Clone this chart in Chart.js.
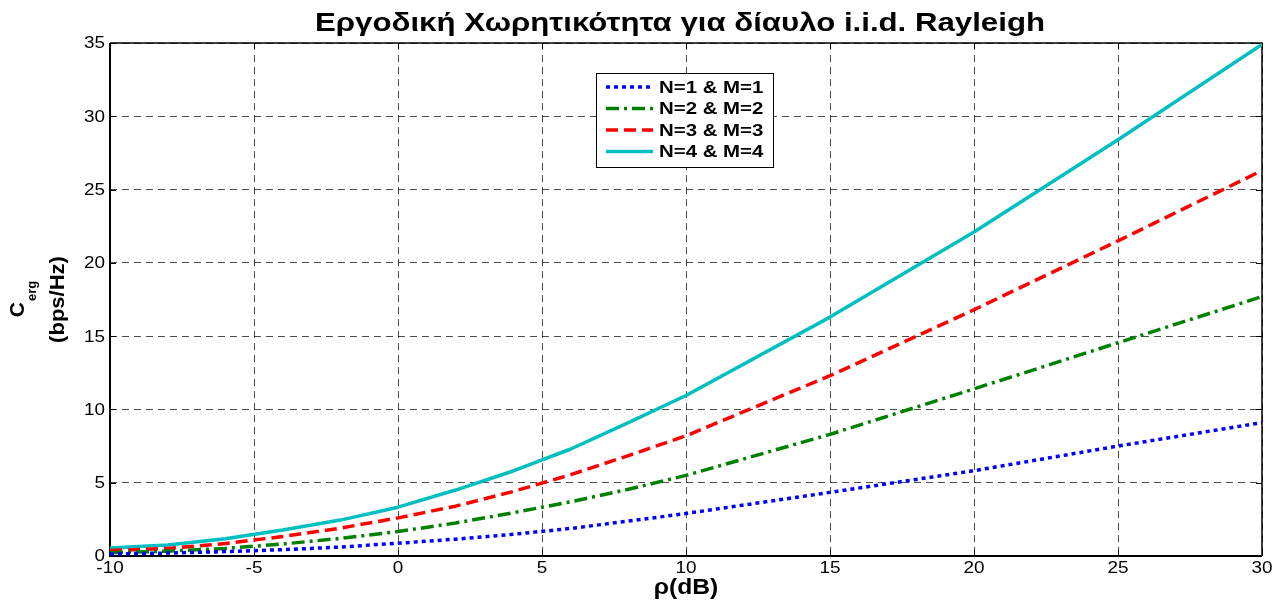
<!DOCTYPE html>
<html>
<head>
<meta charset="utf-8">
<script src="https://cdn.jsdelivr.net/npm/chart.js@4/dist/chart.umd.min.js"></script>
<style>
  html, body { margin: 0; padding: 0; background: #fff; }
  canvas { display: block; }
</style>
</head>
<body>
<canvas id="chart" width="1282" height="601"></canvas>
<script>
// SNR points (dB)
const snrDb = [-10, -8, -6, -4, -2, 0, 2, 4, 6, 8, 10, 15, 20, 25, 30];

// Ergodic capacity (bps/Hz) per antenna configuration
const cap1x1 = [0.14, 0.20, 0.30, 0.43, 0.61, 0.87, 1.15, 1.48, 1.88, 2.38, 2.90, 4.34, 5.82, 7.50, 9.10];
const cap2x2 = [0.23, 0.33, 0.52, 0.82, 1.20, 1.67, 2.25, 2.95, 3.70, 4.55, 5.50, 8.30, 11.40, 14.55, 17.70];
const cap3x3 = [0.37, 0.52, 0.85, 1.33, 1.90, 2.60, 3.40, 4.40, 5.55, 6.85, 8.20, 12.30, 16.80, 21.50, 26.30];
const cap4x4 = [0.55, 0.75, 1.17, 1.78, 2.45, 3.33, 4.50, 5.80, 7.30, 9.10, 10.95, 16.30, 22.10, 28.40, 34.90];

const seriesLabels = ['N=1 & M=1', 'N=2 & M=2', 'N=3 & M=3', 'N=4 & M=4'];

// Axis ticks
const xTicks = [-10, -5, 0, 5, 10, 15, 20, 25, 30];
const yTicks = [0, 5, 10, 15, 20, 25, 30, 35];

const titleText = 'Εργοδική Χωρητικότητα για δίαυλο i.i.d. Rayleigh';
const xTitle = 'ρ(dB)';
const yTitleMain = 'C';
const yTitleSub = 'erg';
const yTitleUnit = '(bps/Hz)';

const FONT = '"Liberation Sans", Arial, Helvetica, sans-serif';
const TEXT_STRETCH = 1.18;   // slightly wide lettering

const toPoints = arr => snrDb.map((x, i) => ({ x: x, y: arr[i] }));

const styles = [
  { color: '#0000FF', dash: [4, 4] },
  { color: '#008000', dash: [13, 5, 3, 5] },
  { color: '#FF0000', dash: [12, 6] },
  { color: '#00BFBF', dash: [] }
];
const allSeries = [cap1x1, cap2x2, cap3x3, cap4x4];

const datasets = allSeries.map((arr, i) => ({
  label: seriesLabels[i],
  data: toPoints(arr),
  borderColor: styles[i].color,
  backgroundColor: styles[i].color,
  borderDash: styles[i].dash,
  borderWidth: 3.5,
  borderCapStyle: 'butt',
  borderJoinStyle: 'round',
  pointRadius: 0,
  tension: 0,
  fill: false
}));

// text drawn with a horizontal stretch around its anchor
function wideText(ctx, text, x, y, font, align, baseline, sx) {
  ctx.save();
  ctx.translate(x, y);
  ctx.scale(sx || TEXT_STRETCH, 1);
  ctx.font = font;
  ctx.textAlign = align;
  ctx.textBaseline = baseline;
  ctx.fillStyle = '#000';
  ctx.fillText(text, 0, 0);
  ctx.restore();
}

// Full axes box with inward ticks on all four sides, plus tick labels
const boxPlugin = {
  id: 'axesBox',
  beforeDatasetsDraw(chart) {
    const { ctx, chartArea: a, scales } = chart;
    ctx.save();
    ctx.strokeStyle = '#000';
    ctx.lineWidth = 1;
    const tl = 6;
    ctx.beginPath();
    scales.x.ticks.forEach(t => {
      const px = Math.round(scales.x.getPixelForValue(t.value)) + 0.5;
      ctx.moveTo(px, a.bottom); ctx.lineTo(px, a.bottom - tl);
      ctx.moveTo(px, a.top); ctx.lineTo(px, a.top + tl);
    });
    scales.y.ticks.forEach(t => {
      const py = Math.round(scales.y.getPixelForValue(t.value)) + 0.5;
      ctx.moveTo(a.left, py); ctx.lineTo(a.left + tl, py);
      ctx.moveTo(a.right, py); ctx.lineTo(a.right - tl, py);
    });
    ctx.stroke();
    ctx.lineWidth = 2;
    ctx.beginPath();
    ctx.moveTo(a.left, a.top); ctx.lineTo(a.left, a.bottom); ctx.lineTo(a.right, a.bottom);
    ctx.stroke();
    ctx.lineWidth = 1.5;
    ctx.beginPath();
    ctx.moveTo(a.left, a.top); ctx.lineTo(a.right, a.top); ctx.lineTo(a.right, a.bottom);
    ctx.stroke();
    ctx.restore();

    const tickFont = '16px ' + FONT;
    scales.x.ticks.forEach(t => {
      wideText(ctx, String(t.value), scales.x.getPixelForValue(t.value), a.bottom + 5, tickFont, 'center', 'top');
    });
    scales.y.ticks.forEach(t => {
      wideText(ctx, String(t.value), a.left - 5, scales.y.getPixelForValue(t.value) + 1, tickFont, 'right', 'middle');
    });
  }
};

// Legend box inside the plot
const legendPlugin = {
  id: 'insideLegend',
  afterDatasetsDraw(chart) {
    const { ctx } = chart;
    const bx = 596, by = 73, bw = 177, bh = 94;
    ctx.save();
    ctx.fillStyle = '#fff';
    ctx.fillRect(bx, by, bw, bh);
    ctx.strokeStyle = '#000';
    ctx.lineWidth = 1;
    ctx.strokeRect(bx + 0.5, by + 0.5, bw, bh);
    chart.data.datasets.forEach((ds, i) => {
      const y = by + 14 + i * 21.5;
      ctx.strokeStyle = ds.borderColor;
      ctx.lineWidth = 3.5;
      ctx.setLineDash(ds.borderDash);
      ctx.beginPath();
      ctx.moveTo(bx + 10, y);
      ctx.lineTo(bx + 57, y);
      ctx.stroke();
      ctx.setLineDash([]);
      wideText(ctx, ds.label, bx + 63, y + 1, 'bold 17px ' + FONT, 'left', 'middle', 1.2);
    });
    ctx.restore();
  }
};

// Title, x-axis title and rotated y-axis title with subscript
const textPlugin = {
  id: 'extraText',
  afterDraw(chart) {
    const { ctx, chartArea: a } = chart;
    const midX = (a.left + a.right) / 2;
    wideText(ctx, titleText, midX - 6, 31, 'bold 26px ' + FONT, 'center', 'alphabetic', 1.2);
    wideText(ctx, xTitle, midX, 594, 'bold 22px ' + FONT, 'center', 'alphabetic', 1.12);

    ctx.save();
    ctx.fillStyle = '#000';
    const cy = (a.top + a.bottom) / 2;
    ctx.translate(0, cy);
    ctx.rotate(-Math.PI / 2);
    ctx.textAlign = 'left';
    ctx.textBaseline = 'alphabetic';
    ctx.font = 'bold 21px ' + FONT;
    const wC = ctx.measureText(yTitleMain).width;
    ctx.font = 'bold 13px ' + FONT;
    const wS = ctx.measureText(yTitleSub).width;
    const start = -(wC + wS) / 2;
    ctx.font = 'bold 21px ' + FONT;
    ctx.fillText(yTitleMain, start, 24);
    ctx.font = 'bold 13px ' + FONT;
    ctx.fillText(yTitleSub, start + wC + 1, 36);
    ctx.font = 'bold 20px ' + FONT;
    ctx.textAlign = 'center';
    ctx.scale(1.1, 1);
    ctx.fillText(yTitleUnit, 0, 64);
    ctx.restore();
  }
};

const gridColor = 'rgba(0,0,0,0.7)';

new Chart(document.getElementById('chart'), {
  type: 'line',
  data: { datasets },
  options: {
    responsive: false,
    devicePixelRatio: 1,
    animation: false,
    layout: { padding: { top: 43, right: 20, left: 0, bottom: 0 } },
    plugins: {
      legend: { display: false },
      tooltip: { enabled: false },
      title: { display: false }
    },
    scales: {
      x: {
        type: 'linear',
        min: -10,
        max: 30,
        afterBuildTicks(scale) { scale.ticks = xTicks.map(v => ({ value: v })); },
        ticks: { display: false, autoSkip: false },
        grid: { color: gridColor, lineWidth: 1, drawTicks: false },
        border: { display: false, dash: [7, 5] },
        afterFit(scale) {
          scale.height = 45;
          scale.paddingLeft = 0;
          scale.paddingRight = 0;
        }
      },
      y: {
        type: 'linear',
        min: 0,
        max: 35,
        afterBuildTicks(scale) { scale.ticks = yTicks.map(v => ({ value: v })); },
        ticks: { display: false, autoSkip: false },
        grid: { color: gridColor, lineWidth: 1, drawTicks: false },
        border: { display: false, dash: [7, 5] },
        afterFit(scale) {
          scale.width = 110;
          scale.paddingTop = 0;
          scale.paddingBottom = 0;
        }
      }
    }
  },
  plugins: [boxPlugin, legendPlugin, textPlugin]
});
</script>
</body>
</html>
